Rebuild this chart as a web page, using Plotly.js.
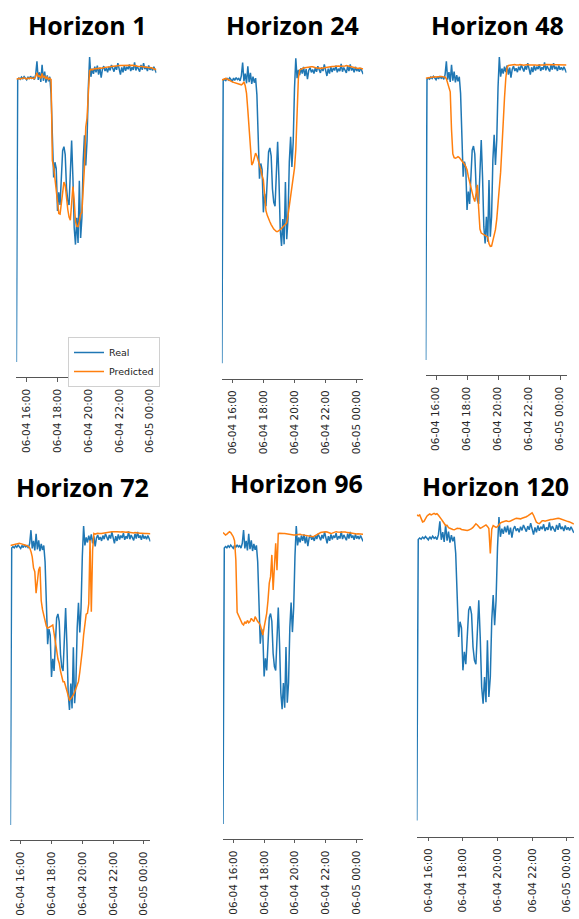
<!DOCTYPE html>
<html>
<head>
<meta charset="utf-8">
<script src="https://cdn.plot.ly/plotly-3.0.1.min.js"></script>
<style>html,body{margin:0;padding:0;background:#fff;}#chart{width:579px;height:919px;}</style>
</head>
<body>
<div id="chart"></div>
<script>
// ---------------- DATA ----------------
const START_TIME_UTC = Date.UTC(2024, 5, 4, 15, 20); // 06-04 15:20
const STEP_MINUTES = 5;
const tickVals = ['2024-06-04 16:00', '2024-06-04 18:00', '2024-06-04 20:00', '2024-06-04 22:00', '2024-06-05 00:00'];
const tickText = ['06-04 16:00', '06-04 18:00', '06-04 20:00', '06-04 22:00', '06-05 00:00'];
const horizonTitles = ['Horizon 1', 'Horizon 24', 'Horizon 48', 'Horizon 72', 'Horizon 96', 'Horizon 120'];
const seriesNames = ['Real', 'Predicted'];

const real = [
  0, 92.6, 93.1, 92.7, 93.4, 92.9, 93.6, 93.0, 92.5, 93.5,
  92.8, 93.7, 93.0, 93.4, 92.6, 94.2, 98.6, 92.5, 95.0, 91.8,
  97.4, 92.2, 95.2, 91.6, 94.0, 92.0, 93.5, 88.0, 70.0, 60.5,
  65.5, 63.5, 49.5, 55.6, 51.5, 60.0, 69.3, 70.6, 68.0, 57.2,
  52.8, 51.5, 63.8, 72.6, 60.5, 44.0, 38.5, 47.3, 39.0, 59.4,
  40.7, 47.3, 66.0, 74.3, 64.4, 72.6, 90.0, 100.0, 93.5, 96.2,
  94.5, 96.8, 95.0, 97.2, 94.2, 96.5, 93.2, 96.0, 97.0, 95.4,
  96.3, 95.0, 96.8, 95.6, 97.4, 96.0, 95.2, 97.0, 95.8, 98.0,
  96.2, 94.2, 96.6, 95.0, 97.2, 95.5, 96.8, 96.0, 97.6, 95.4,
  96.6, 95.8, 98.2, 95.6, 97.0, 96.2, 95.2, 97.4, 95.8, 98.0,
  96.0, 96.8, 95.4, 97.2, 95.8, 96.6, 95.6, 96.8, 96.0, 94.8
];

const pred1 = [
  92.7, 92.8, 93.0, 92.8, 93.0, 93.0, 93.2, 92.9, 92.8, 93.1,
  92.9, 93.2, 93.1, 93.1, 92.9, 93.6, 94.8, 93.6, 93.8, 93.0,
  94.6, 93.2, 93.8, 92.8, 93.4, 92.6, 93.0, 92.6, 66.0, 64.0,
  60.0, 55.0, 52.0, 48.7, 48.5, 52.0, 55.0, 59.0, 58.0, 53.0,
  50.0, 47.5, 46.5, 52.0, 57.5, 53.0, 46.0, 44.5, 44.4, 46.0,
  48.5, 49.0, 56.0, 64.0, 77.0, 80.0, 88.0, 95.5, 96.0, 95.8,
  96.0, 96.2, 96.1, 96.3, 96.2, 96.4, 96.3, 96.5, 96.5, 96.6,
  96.6, 96.7, 96.8, 96.8, 96.9, 96.9, 97.0, 97.0, 97.1, 97.1,
  97.2, 97.2, 97.2, 97.3, 97.3, 97.2, 97.4, 97.3, 97.2, 97.4,
  97.2, 97.3, 97.1, 97.2, 97.0, 97.0, 96.9, 96.8, 96.9, 96.7,
  96.8, 96.6, 96.6, 96.5, 96.4, 96.5, 96.3, 96.2, 96.0, 95.8
];

const pred24 = [
  92.9, 93.1, 93.3, 93.4, 93.2, 92.9, 92.6, 92.5, 92.3, 92.1,
  92.0, 91.9, 91.8, 91.6, 91.4, 91.3, 91.6, 92.3, 91.0, 88.5,
  83.0, 76.0, 69.0, 65.0, 65.8, 67.5, 68.9, 68.0, 66.5, 65.6,
  63.5, 61.5, 60.1, 55.0, 50.0, 48.5, 47.2, 46.4, 45.5, 44.6,
  44.0, 43.6, 43.2, 43.2, 43.5, 43.8, 44.2, 44.7, 45.1, 45.5,
  46.0, 48.5, 51.5, 54.5, 58.0, 61.0, 64.0, 70.0, 84.0, 93.5,
  96.2, 96.5, 96.6, 96.8, 96.9, 97.0, 97.1, 97.2, 97.3, 97.2,
  97.2, 97.0, 96.9, 96.8, 96.8, 96.7, 96.6, 96.7, 96.8, 96.9,
  97.0, 97.0, 97.1, 97.1, 97.2, 97.3, 97.3, 97.4, 97.4, 97.5,
  97.5, 97.4, 97.4, 97.3, 97.4, 97.5, 97.6, 97.5, 97.4, 97.3,
  97.2, 97.0, 96.9, 96.8, 96.8, 96.7, 96.8, 96.7, 96.6, 96.5
];

const pred48 = [
  93.0, 93.1, 93.2, 93.2, 93.3, 93.4, 93.5, 93.5, 93.4, 93.5,
  93.5, 93.5, 93.6, 93.5, 93.5, 93.4, 92.8, 91.5, 90.3, 88.5,
  76.0, 68.0, 66.8, 66.6, 66.8, 67.1, 66.8, 66.3, 65.8, 65.2,
  64.6, 63.8, 62.8, 60.5, 58.5, 57.0, 55.0, 53.5, 52.3, 55.5,
  57.8, 50.0, 43.2, 41.9, 41.6, 41.4, 41.2, 41.0, 40.6, 38.4,
  37.5, 37.6, 39.2, 40.7, 43.0, 46.5, 51.5, 56.5, 62.0, 70.0,
  80.0, 86.5, 93.0, 96.5, 97.2, 97.3, 97.4, 97.3, 97.4, 97.5,
  97.4, 97.3, 97.4, 97.5, 97.4, 97.4, 97.3, 97.4, 97.5, 97.5,
  97.4, 97.3, 97.4, 97.4, 97.5, 97.4, 97.3, 97.4, 97.5, 97.4,
  97.4, 97.3, 97.4, 97.5, 97.5, 97.4, 97.3, 97.4, 97.4, 97.5,
  97.4, 97.3, 97.4, 97.4, 97.3, 97.4, 97.5, 97.4, 97.3, 97.4
];

const pred72 = [
  93.5, 93.6, 93.8, 93.9, 94.0, 94.1, 94.2, 94.2, 94.1, 94.0,
  93.9, 93.8, 93.6, 93.4, 93.1, 92.7, 91.5, 89.7, 86.0, 84.7,
  77.5, 80.8, 85.3, 86.4, 75.0, 72.0, 70.0, 67.5, 66.5, 65.8,
  66.0, 66.3, 66.6, 66.9, 64.5, 62.0, 58.5, 55.5, 54.1, 51.5,
  49.0, 47.9, 47.9, 46.5, 44.5, 42.9, 41.8, 42.2, 42.8, 43.5,
  44.5, 45.7, 46.8, 48.0, 51.0, 54.1, 58.5, 63.5, 68.0, 70.5,
  70.8, 74.0, 95.3, 71.3, 92.0, 97.5, 97.3, 97.5, 97.6, 97.5,
  97.4, 97.5, 97.6, 97.7, 97.8, 97.8, 97.9, 98.0, 98.0, 98.1,
  98.1, 98.0, 98.1, 98.1, 98.0, 97.9, 98.0, 98.1, 98.0, 97.9,
  97.9, 98.0, 97.9, 97.8, 97.9, 97.8, 97.7, 97.8, 97.7, 97.6,
  97.7, 97.6, 97.6, 97.5, 97.6, 97.5, 97.5, 97.4, 97.5, 97.4
];

const pred96 = [
  97.8, 97.5, 97.0, 97.3, 97.6, 98.1, 97.8, 97.2, 96.4, 95.0,
  88.6, 71.0, 70.0, 69.0, 68.2, 67.2, 66.8, 67.9, 67.3, 68.3,
  67.5, 67.9, 69.0, 68.2, 67.9, 69.6, 68.5, 67.9, 67.5, 66.8,
  65.1, 63.4, 66.0, 68.5, 70.7, 75.0, 80.8, 83.0, 90.3, 78.5,
  86.4, 94.2, 85.2, 97.5, 97.6, 97.5, 97.4, 97.5, 97.5, 97.4,
  97.3, 97.3, 97.2, 97.2, 97.1, 97.0, 97.0, 97.1, 97.2, 97.1,
  97.2, 97.1, 97.0, 97.0, 96.9, 96.8, 96.7, 96.6, 96.5, 96.4,
  96.4, 96.6, 96.9, 97.2, 97.4, 97.6, 97.8, 97.9, 98.0, 98.1,
  98.1, 98.0, 97.8, 97.6, 97.5, 97.6, 97.8, 98.0, 98.1, 98.0,
  97.9, 97.8, 97.9, 98.0, 98.1, 98.0, 97.9, 97.8, 97.7, 97.6,
  97.5, 97.6, 97.5, 97.4, 97.3, 97.4, 97.3, 97.2, 97.3, 97.2
];

const pred120 = [
  100.7, 100.4, 100.7, 99.3, 98.4, 98.6, 99.6, 100.3, 100.7, 101.0,
  100.7, 101.0, 101.2, 100.9, 101.1, 100.6, 100.1, 99.3, 98.6, 97.8,
  97.2, 97.3, 96.5, 96.3, 96.0, 95.9, 95.8, 96.0, 96.3, 96.2,
  96.2, 95.9, 95.8, 95.7, 95.6, 95.6, 95.7, 95.9, 96.2, 96.6,
  97.2, 97.8, 97.4, 96.8, 96.3, 96.5, 96.8, 97.2, 97.4, 96.9,
  96.2, 88.0, 96.0, 97.2, 96.8, 96.6, 96.8, 97.6, 98.0, 98.3,
  98.5, 98.6, 98.8, 98.6, 98.5, 98.7, 99.0, 99.1, 99.4, 99.6,
  99.5, 99.6, 99.4, 99.6, 99.7, 99.9, 100.1, 100.4, 100.7, 101.2,
  101.4, 100.6, 99.4, 98.3, 98.0, 97.8, 98.3, 98.8, 98.8, 98.6,
  98.8, 99.0, 99.0, 99.2, 99.2, 99.3, 99.5, 99.6, 99.6, 99.5,
  99.3, 99.2, 99.0, 98.8, 98.6, 98.5, 98.4, 98.2, 98.0, 97.7
];

const predictions = [pred1, pred24, pred48, pred72, pred96, pred120];

// ---------------- LAYOUT GEOMETRY (pixels) ----------------
const W = 579, H = 919;
const panels = [
  {x: [16.4, 156.4], y: [41.75, 377.25], yr: [-5, 105], title: [87, 25]},
  {x: [221.9, 363.2], y: [43.05, 378.55], yr: [-5, 105], title: [292, 25]},
  {x: [425.7, 566.5], y: [41.85, 375.15], yr: [-5, 105], title: [498, 25]},
  {x: [10.4, 150.4], y: [511.05, 839.95], yr: [-5, 105], title: [82, 487]},
  {x: [223.0, 363.1], y: [511.1, 838.9], yr: [-5, 105], title: [296, 483]},
  {x: [416.8, 573.9], y: [496.7, 836.7], yr: [-5.3, 106.7], title: [495, 486]}
];

const times = real.map((_, i) => new Date(START_TIME_UTC + i * STEP_MINUTES * 60000).toISOString().slice(0, 16).replace('T', ' '));

const BLUE = '#1f77b4', ORANGE = '#ff7f0e';
const traces = [];
const layout = {
  width: W, height: H,
  margin: {l: 0, r: 0, t: 0, b: 0, pad: 0},
  paper_bgcolor: '#ffffff', plot_bgcolor: '#ffffff',
  showlegend: true,
  legend: {
    x: 68 / W, y: 1 - 337 / H, xanchor: 'left', yanchor: 'top',
    bgcolor: '#ffffff', bordercolor: '#d0d0d0', borderwidth: 1,
    font: {family: 'DejaVu Sans', size: 9.5, color: '#222'},
    itemwidth: 30, tracegroupgap: 0
  },
  annotations: []
};

panels.forEach((p, k) => {
  const n = k === 0 ? '' : String(k + 1);
  const xa = 'x' + n, ya = 'y' + n;
  traces.push({
    x: times, y: real, xaxis: xa, yaxis: ya, type: 'scatter', mode: 'lines',
    name: seriesNames[0], legendgroup: 'real', showlegend: k === 0,
    line: {color: BLUE, width: 1.5}, hoverinfo: 'skip'
  });
  traces.push({
    x: times, y: predictions[k], xaxis: xa, yaxis: ya, type: 'scatter', mode: 'lines',
    name: seriesNames[1], legendgroup: 'pred', showlegend: k === 0,
    line: {color: ORANGE, width: 1.5}, hoverinfo: 'skip'
  });
  layout['xaxis' + n] = {
    type: 'date', anchor: ya,
    domain: [p.x[0] / W, p.x[1] / W],
    range: [times[0], times[times.length - 1]],
    tickmode: 'array', tickvals: tickVals, ticktext: tickText, tickangle: -90,
    ticks: 'outside', ticklen: 3.5, tickwidth: 0.8, tickcolor: '#333',
    ticklabelstandoff: 3,
    showline: true, linecolor: '#555', linewidth: 1,
    showgrid: false, zeroline: false,
    tickfont: {family: 'DejaVu Sans', size: 10.5, color: '#262626'}
  };
  layout['yaxis' + n] = {
    anchor: xa, visible: false,
    domain: [1 - p.y[1] / H, 1 - p.y[0] / H],
    range: p.yr, showgrid: false, zeroline: false
  };
  layout.annotations.push({
    text: horizonTitles[k], xref: 'paper', yref: 'paper',
    x: p.title[0] / W, y: 1 - p.title[1] / H, xanchor: 'center', yanchor: 'middle',
    showarrow: false,
    font: {family: 'Open Sans', size: 25, weight: 700, color: '#000'}
  });
});

Plotly.newPlot('chart', traces, layout, {staticPlot: true, displayModeBar: false});
</script>
</body>
</html>
